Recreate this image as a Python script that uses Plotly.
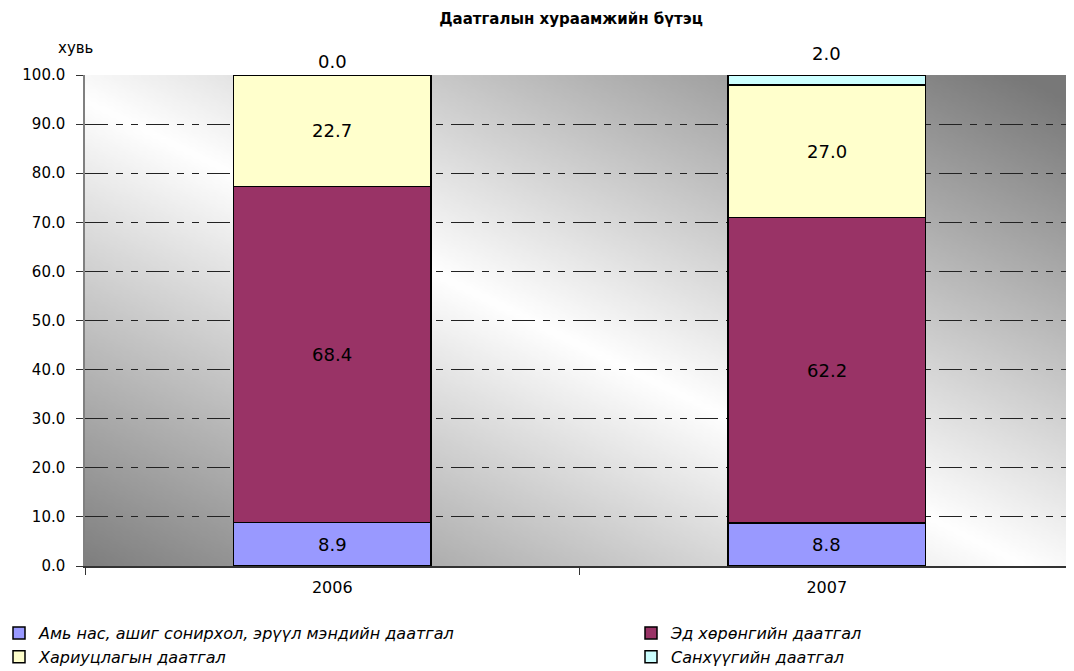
import zlib, struct, base64
import plotly.graph_objects as go

# ---- data ----
years = ["2006", "2007"]
series_names = [
    "Амь нас, ашиг сонирхол, эрүүл мэндийн даатгал",
    "Эд хөрөнгийн даатгал",
    "Хариуцлагын даатгал",
    "Санхүүгийн даатгал",
]
life_health = [8.9, 8.8]
property_ins = [68.4, 62.2]
liability = [22.7, 27.0]
financial = [0.0, 2.0]
y_ticks = [0, 10, 20, 30, 40, 50, 60, 70, 80, 90, 100]

colors = ["#9999FF", "#993366", "#FFFFCC", "#CCFFFF"]
legend_of = ["legend", "legend2", "legend", "legend2"]
FONT = "DejaVu Sans"

# the page body has an 8px margin: work in screen pixels, convert to figure pixels
OFF = 8
W, H = 1074 - OFF, 671 - OFF
S_L, S_T, S_R, S_B = 85, 75, 1074, 566          # plot area in screen px
M_L, M_T = S_L - OFF, S_T - OFF
M_R, M_B = W - (S_R - OFF), H - (S_B - OFF)
PLOT_W, PLOT_H = S_R - S_L, S_B - S_T


def cx(sx):  # screen x -> container fraction
    return (sx - OFF) / W


def cy(sy):  # screen y -> container fraction (from bottom)
    return 1 - (sy - OFF) / H


def px(sx):  # screen x -> paper fraction
    return (sx - S_L) / PLOT_W


def py(sy):
    return (S_B - sy) / PLOT_H


# ---- background gradient image (decoration only) ----
def make_png(w, h):
    rows = []
    for j in range(h):
        v = j / (h - 1)
        row = bytearray()
        for i in range(w):
            u = i / (w - 1)
            t = min(abs(v - u - 0.05), 1.0)
            row.append(int(round(255 - 135 * t)))
        rows.append(b"\x00" + bytes(row))
    raw = b"".join(rows)

    def chunk(tag, data):
        c = struct.pack(">I", len(data)) + tag + data
        return c + struct.pack(">I", zlib.crc32(tag + data) & 0xFFFFFFFF)

    png = (b"\x89PNG\r\n\x1a\n"
           + chunk(b"IHDR", struct.pack(">IIBBBBB", w, h, 8, 0, 0, 0, 0))
           + chunk(b"IDAT", zlib.compress(raw))
           + chunk(b"IEND", b""))
    return "data:image/png;base64," + base64.b64encode(png).decode()


bg = make_png(240, 120)

fig = go.Figure()
all_vals = [life_health, property_ins, liability, financial]
for k, (name, vals) in enumerate(zip(series_names, all_vals)):
    fig.add_trace(go.Bar(
        x=years, y=vals, name=name,
        legend=legend_of[k],
        marker=dict(color=colors[k], line=dict(color="#000000", width=1.5)),
        textposition="none",
        hoverinfo="skip",
    ))

# data labels, computed from the series (segment centres; top series above stack)
annotations = [dict(text="хувь", xref="paper", yref="paper",
                    x=px(75), y=py(48), xanchor="center", yanchor="middle",
                    showarrow=False, font=dict(family=FONT, size=15, color="#000000"))]
for i, yr in enumerate(years):
    base = 0.0
    for k, vals in enumerate(all_vals):
        v = vals[i]
        last = (k == len(all_vals) - 1)
        if last:
            annotations.append(dict(
                x=i, y=round(base + v, 6), xref="x", yref="y", text=f"{v:.1f}",
                showarrow=False, xanchor="center", yanchor="bottom",
                yshift=1 + 4 * v,
                font=dict(family=FONT, size=18, color="#000000")))
        else:
            annotations.append(dict(
                x=i, y=round(base + v / 2, 6), xref="x", yref="y", text=f"{v:.1f}",
                showarrow=False, xanchor="center", yanchor="middle",
                font=dict(family=FONT, size=18, color="#000000")))
        base = round(base + v, 6)

leg_common = dict(orientation="v", xref="paper", yref="container",
                  yanchor="top", y=cy(616),
                  font=dict(family=FONT, size=16, color="#000000", style="italic"),
                  traceorder="normal", bgcolor="rgba(0,0,0,0)",
                  itemclick=False, itemdoubleclick=False)

fig.update_layout(
    barmode="stack",
    bargap=0.6,
    width=W, height=H,
    margin=dict(l=M_L, r=M_R, t=M_T, b=M_B, autoexpand=False),
    paper_bgcolor="#FFFFFF",
    plot_bgcolor="rgba(0,0,0,0)",
    font=dict(family=FONT, size=15, color="#000000"),
    title=dict(text="<b>Даатгалын хураамжийн бүтэц</b>",
               font=dict(family=FONT, size=15, color="#000000"),
               x=cx(571), xanchor="center", y=cy(19), yanchor="middle",
               xref="container", yref="container"),
    images=[dict(source=bg, xref="paper", yref="paper", x=0, y=1,
                 sizex=1, sizey=1, xanchor="left", yanchor="top",
                 sizing="stretch", layer="below")],
    showlegend=True,
    legend=dict(x=px(-1), xanchor="left", **leg_common),
    legend2=dict(x=px(631), xanchor="left", **leg_common),
    annotations=annotations,
)

fig.update_xaxes(
    type="category",
    range=[-0.5, len(years) - 0.5],
    showline=True, linecolor="#333333", linewidth=1.5,
    ticks="outside", tickson="boundaries", ticklen=7, tickcolor="#333333",
    tickfont=dict(family=FONT, size=16, color="#000000"),
    ticklabelstandoff=6,
    showgrid=False, zeroline=False,
)
fig.update_yaxes(
    range=[0, 100],
    tickvals=y_ticks,
    tickformat=".1f",
    showline=True, linecolor="#808080", linewidth=1.5,
    ticks="outside", ticklen=7, tickcolor="#333333",
    tickfont=dict(family=FONT, size=15, color="#000000"),
    ticklabelstandoff=8,
    showgrid=True, gridcolor="#222222", gridwidth=1,
    griddash="23px,8px,7px,8px,7px,8px",
    zeroline=False,
)

fig.write_html("out.html")
